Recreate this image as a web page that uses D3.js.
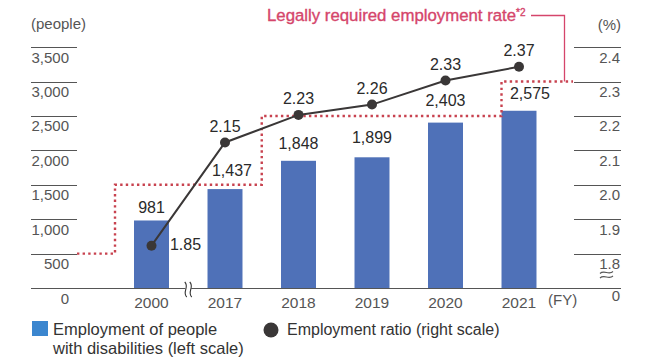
<!DOCTYPE html>
<html>
<head>
<meta charset="utf-8">
<script src="https://cdn.jsdelivr.net/npm/d3@7"></script>
<style>
  html, body { margin: 0; padding: 0; background: #fff; }
  svg { display: block; font-family: "Liberation Sans", Arial, sans-serif; }
</style>
</head>
<body>
<svg id="chart" width="650" height="358"></svg>
<script>
// ---------- data ----------
const years = ["2000", "2017", "2018", "2019", "2020", "2021"];
const employees = [981, 1437, 1848, 1899, 2403, 2575];
const ratio = [1.85, 2.15, 2.23, 2.26, 2.33, 2.37];
const legalRates = [1.8, 2.0, 2.2, 2.3];
const leftTicks = [500, 1000, 1500, 2000, 2500, 3000, 3500];
const rightTicks = [1.8, 1.9, 2.0, 2.1, 2.2, 2.3, 2.4];
const leftUnit = "(people)";
const rightUnit = "(%)";
const xUnit = "(FY)";
const legalTitle = "Legally required employment rate";
const legalNote = "*2";
const legendBar = ["Employment of people", "with disabilities (left scale)"];
const legendLine = "Employment ratio (right scale)";

// ---------- layout / style ----------
const C = {
  bar: "#4f71b8", legendSq: "#3b86cf", line: "#3a3737", tick: "#555",
  tickText: "#555", value: "#2a2a2a", legal: "#c8424f", title: "#d5456b"
};
// label nudges (layout only)
const barLabelNudge = {"2000": [0, 13], "2017": [7, 19], "2018": [0, 17], "2019": [0, 20], "2020": [0, 22], "2021": [11, 17]};

const svg = d3.select("#chart");

const yL = d3.scaleLinear().domain([0, 3500]).range([288, 47.1]);
const yGrid = d3.scaleLinear().domain([1.8, 2.4]).range([253.6, 47.1]);
const yRatio = d3.scaleLinear().domain([1.8, 2.4]).range([262.9, 56.4]);
const x = d3.scaleBand().domain(years).range([114.75, 555.75]).paddingInner(0.524).paddingOuter(0.262);
const cx = d => x(d) + x.bandwidth() / 2;

const data = years.map((y, i) => ({ year: y, emp: employees[i], ratio: ratio[i] }));

// ---------- left axis ----------
const gl = svg.append("g");
gl.selectAll("line").data(leftTicks).join("line")
  .attr("x1", 31).attr("x2", 77)
  .attr("y1", d => Math.round(yL(d)) + 0.5).attr("y2", d => Math.round(yL(d)) + 0.5)
  .attr("stroke", C.tick).attr("stroke-width", 1);
gl.selectAll("text").data([0].concat(leftTicks)).join("text")
  .attr("x", 69).attr("y", d => yL(d) + 15.5)
  .attr("text-anchor", "end").attr("font-size", 15).attr("fill", C.tickText)
  .text(d => d3.format(",")(d));
svg.append("text").attr("x", 31).attr("y", 29).attr("font-size", 15).attr("fill", C.tickText).text(leftUnit);

// ---------- right axis ----------
const gr = svg.append("g");
gr.selectAll("line").data(rightTicks).join("line")
  .attr("x1", 574).attr("x2", 621)
  .attr("y1", d => Math.round(yGrid(d)) + 0.5).attr("y2", d => Math.round(yGrid(d)) + 0.5)
  .attr("stroke", C.tick).attr("stroke-width", 1);
gr.selectAll("text").data(rightTicks).join("text")
  .attr("x", 620).attr("y", d => yGrid(d) + 15.5)
  .attr("text-anchor", "end").attr("font-size", 15).attr("fill", C.tickText)
  .text(d => d3.format(".1f")(d));
svg.append("text").attr("x", 620).attr("y", 301).attr("text-anchor", "end")
  .attr("font-size", 15).attr("fill", C.tickText).text("0");
svg.append("text").attr("x", 621).attr("y", 30).attr("text-anchor", "end")
  .attr("font-size", 15).attr("fill", C.tickText).text(rightUnit);
// break symbol on right axis
const br = svg.append("g").attr("fill", "none").attr("stroke", C.tick).attr("stroke-width", 1.1);
[272.5, 277].forEach(yy => {
  br.append("path").attr("d", `M600,${yy + 1} C604,${yy - 3} 609,${yy + 3} 613,${yy - 1}`);
});

// ---------- bars ----------
svg.append("g").selectAll("rect").data(data).join("rect")
  .attr("x", d => x(d.year)).attr("width", x.bandwidth())
  .attr("y", d => yL(d.emp)).attr("height", d => yL(0) - yL(d.emp))
  .attr("fill", C.bar);

// ---------- baseline ----------
svg.append("line").attr("x1", 31).attr("x2", 621).attr("y1", 288.5).attr("y2", 288.5)
  .attr("stroke", C.tick).attr("stroke-width", 1.2);
// x-axis break between 2000 and 2017
const bx = (cx("2000") + cx("2017")) / 2;
svg.append("rect").attr("x", bx - 3).attr("y", 284).attr("width", 6).attr("height", 10).attr("fill", "#fff");
const bk = svg.append("g").attr("fill", "none").attr("stroke", "#333").attr("stroke-width", 1.1);
[-2.5, 2.5].forEach(dx => {
  bk.append("path").attr("d", `M${bx + dx - 1},282 C${bx + dx + 4},287 ${bx + dx - 4},292 ${bx + dx + 1},297`);
});

// ---------- x labels ----------
svg.append("g").selectAll("text").data(years).join("text")
  .attr("x", d => cx(d)).attr("y", 307.5).attr("text-anchor", "middle")
  .attr("font-size", 15.5).attr("fill", C.tickText).text(d => d);
svg.append("text").attr("x", 548).attr("y", 305).attr("font-size", 15).attr("fill", C.tickText).text(xUnit);

// ---------- legal rate step line ----------
const xs = [77, x("2000") - 19, (cx("2017") + cx("2018")) / 2, x("2021"), 573];
const pts = [];
legalRates.forEach((r, i) => {
  pts.push([xs[i], yGrid(r)]);
  pts.push([xs[i + 1], yGrid(r)]);
});
svg.append("path").attr("d", d3.line()(pts))
  .attr("fill", "none").attr("stroke", C.legal).attr("stroke-width", 2.4)
  .attr("stroke-dasharray", "2.4,3.2");

// title with connector
const tt = svg.append("text").attr("x", 267).attr("y", 21).attr("font-size", 16.8)
  .attr("fill", C.title).attr("stroke", C.title).attr("stroke-width", 0.35);
tt.append("tspan").text(legalTitle);
tt.append("tspan").attr("font-size", 10).attr("dy", -5).text(legalNote);
const tx = 564.5;
svg.append("path").attr("d", `M531,15.5 H${tx} V${yGrid(legalRates[3])}`)
  .attr("fill", "none").attr("stroke", C.title).attr("stroke-width", 1.3);

// ---------- ratio line ----------
svg.append("path").datum(data)
  .attr("d", d3.line().x(d => cx(d.year)).y(d => yRatio(d.ratio)))
  .attr("fill", "none").attr("stroke", C.line).attr("stroke-width", 2);
svg.append("g").selectAll("circle").data(data).join("circle")
  .attr("cx", d => cx(d.year)).attr("cy", d => yRatio(d.ratio)).attr("r", 5)
  .attr("fill", C.line);

// ---------- value labels ----------
svg.append("g").selectAll("text").data(data).join("text")
  .attr("x", d => cx(d.year) + barLabelNudge[d.year][0])
  .attr("y", d => yL(d.emp) - barLabelNudge[d.year][1] + 5.5)
  .attr("text-anchor", "middle").attr("font-size", 16).attr("fill", C.value)
  .text(d => d3.format(",")(d.emp));
svg.append("g").selectAll("text").data(data).join("text")
  .attr("x", (d, i) => i === 0 ? cx(d.year) + 34 : cx(d.year))
  .attr("y", (d, i) => i === 0 ? yRatio(d.ratio) + 4 : yRatio(d.ratio) - 16 + 5.5)
  .attr("text-anchor", "middle").attr("font-size", 16).attr("fill", C.value)
  .text(d => d3.format(".2f")(d.ratio));

// ---------- legend ----------
svg.append("rect").attr("x", 32).attr("y", 321).attr("width", 16).attr("height", 15).attr("fill", C.legendSq);
svg.append("text").attr("x", 53).attr("y", 334.5).attr("font-size", 16.5).attr("fill", "#333").text(legendBar[0]);
svg.append("text").attr("x", 53).attr("y", 354).attr("font-size", 16.5).attr("fill", "#333").text(legendBar[1]);
svg.append("circle").attr("cx", 271).attr("cy", 330).attr("r", 7.5).attr("fill", C.line);
svg.append("text").attr("x", 287).attr("y", 335).attr("font-size", 16).attr("fill", "#333").text(legendLine);
</script>
</body>
</html>
